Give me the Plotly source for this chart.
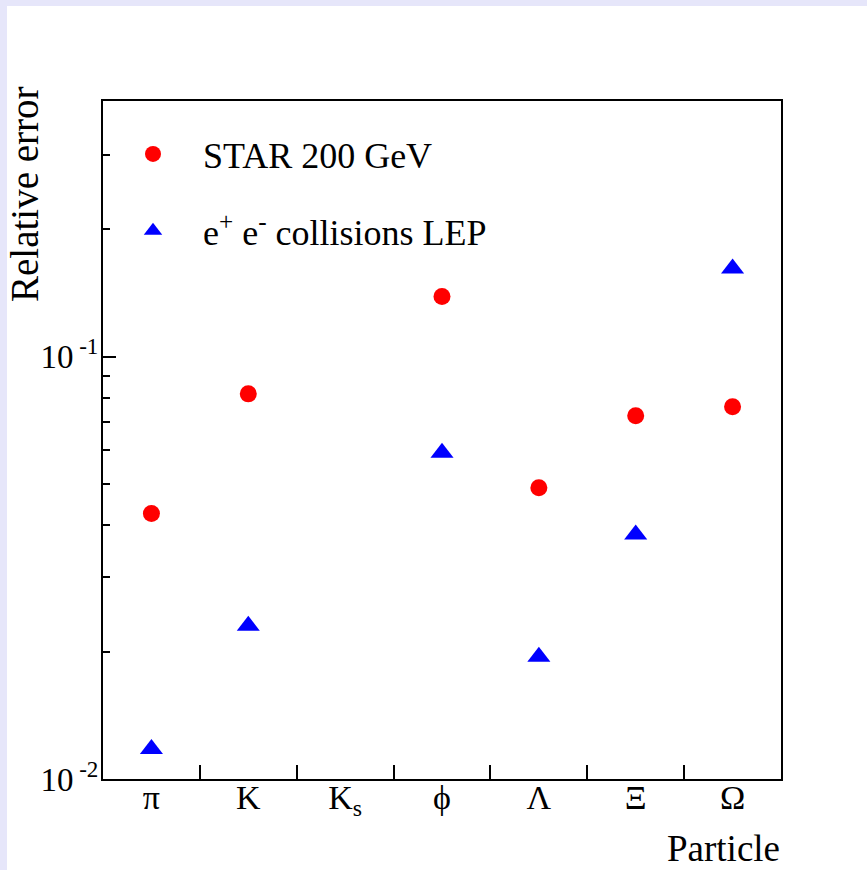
import plotly.graph_objects as go

# ---- data ----
particles = ["π", "K", "K<sub>s</sub>", "ϕ", "Λ", "Ξ", "Ω"]
star_200 = [0.0425, 0.0816, None, 0.1387, 0.0489, 0.0724, 0.0761]
lep_ee = [0.01178, 0.02306, None, 0.0592, 0.01946, 0.0379, 0.1616]
y_major = [0.01, 0.1]
y_major_text = ["10<sup>\u00a0-2</sup>", "10<sup>\u00a0-1</sup>"]
y_minor = [0.02, 0.03, 0.04, 0.05, 0.06, 0.07, 0.08, 0.09, 0.2, 0.3]

W, H = 867, 870
L, R, T, B = 103, 781, 101, 779
pw, ph = R - L, B - T

def px_x(p):
    return (p - L) / pw

def px_y(p):
    return (B - p) / ph

FONT = "Liberation Serif"

fig = go.Figure()
fig.add_trace(go.Scatter(
    x=particles, y=star_200, mode="markers", name="STAR 200 GeV",
    legendgroup="a",
    marker=dict(symbol="circle", size=17, color="#ff0000", line=dict(width=0)),
))
fig.add_trace(go.Scatter(
    x=particles, y=lep_ee, mode="markers",
    name="e<sup>+</sup> e<sup>-</sup> collisions LEP",
    legendgroup="b",
    marker=dict(symbol="triangle-up", size=20, color="#0000ff", line=dict(width=0)),
))

fig.update_layout(
    width=W, height=H,
    margin=dict(l=L, r=W - R, t=T, b=H - B, pad=0),
    paper_bgcolor="#e6e6fa",
    plot_bgcolor="white",
    font=dict(family=FONT, color="black"),
    showlegend=True,
    legend=dict(
        x=px_x(103), y=px_y(124), xanchor="left", yanchor="top",
        bgcolor="rgba(0,0,0,0)", borderwidth=0,
        font=dict(family=FONT, size=36, color="black"),
        itemwidth=90, tracegroupgap=27, traceorder="grouped",
    ),
    shapes=[dict(
        type="rect", xref="paper", yref="paper", layer="below",
        x0=px_x(7), x1=px_x(W + 20), y0=px_y(H + 20), y1=px_y(6),
        fillcolor="white", line=dict(width=0),
    )],
    annotations=[
        dict(text="Particle", xref="paper", yref="paper",
             x=px_x(782), y=px_y(848), xanchor="right", yanchor="middle",
             showarrow=False, font=dict(family=FONT, size=37, color="black")),
        dict(text="Relative error", xref="paper", yref="paper",
             x=px_x(25), y=px_y(195), xanchor="center", yanchor="middle",
             textangle=-90, showarrow=False,
             font=dict(family=FONT, size=39, color="black")),
    ],
)

fig.update_xaxes(
    type="category", categoryorder="array", categoryarray=particles,
    range=[-0.5, 6.5],
    showline=True, linecolor="black", linewidth=2, mirror=True,
    showgrid=False, zeroline=False,
    ticks="inside", tickson="boundaries", ticklen=14, tickwidth=2, tickcolor="black",
    tickfont=dict(family=FONT, size=34, color="black"),
    ticklabelstandoff=-13,
)
fig.update_yaxes(
    type="log", range=[-2, -0.395],
    showline=True, linecolor="black", linewidth=2, mirror=True,
    showgrid=False, zeroline=False,
    tickmode="array", tickvals=y_major, ticktext=y_major_text,
    ticks="inside", ticklen=13, tickwidth=2, tickcolor="black",
    tickfont=dict(family=FONT, size=33, color="black"),
    ticklabelstandoff=-4,
    minor=dict(tickmode="array", tickvals=y_minor, ticks="inside",
               ticklen=7, tickwidth=2, tickcolor="black", showgrid=False),
)

fig.write_html("out.html")
